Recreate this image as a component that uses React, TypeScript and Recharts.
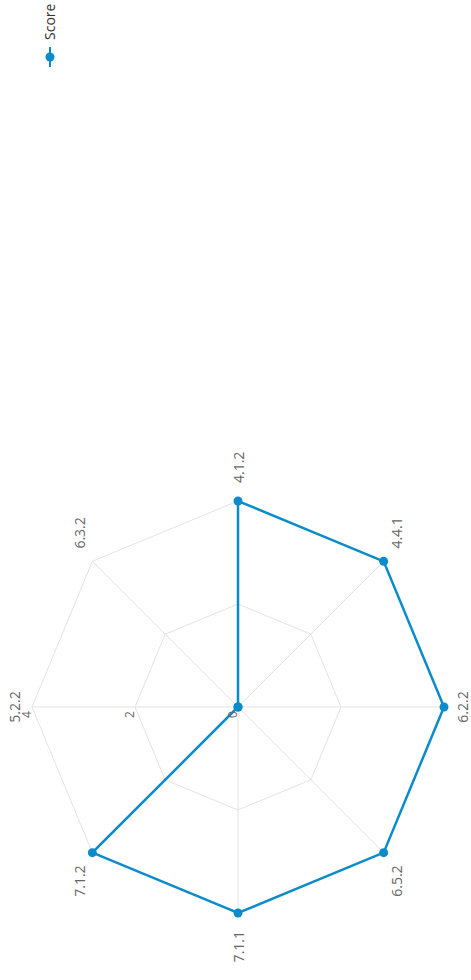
import React from 'react';
import { RadarChart, Radar, PolarGrid, PolarAngleAxis, PolarRadiusAxis, Legend } from 'recharts';

const categories = ['5.2.2', '6.3.2', '4.1.2', '4.4.1', '6.2.2', '6.5.2', '7.1.1', '7.1.2'];
const scores = [0, 0, 4, 4, 4, 4, 4, 4];
const radiusTicks = [0, 2, 4];
const seriesName = 'Score';

const data = categories.map((c, i) => ({ category: c, score: scores[i] }));

const W = 980;
const H = 471;
const CX = 273;
const CY = 238;
const R = 206;
const COLOR = '#0b8bca';
const FONT = '"Open Sans", sans-serif';

const AngleTick = (props: any) => {
  const { payload } = props;
  const ang = (-payload.coordinate * Math.PI) / 180;
  const r = R + 18;
  const x = CX + r * Math.cos(ang);
  const y = CY + r * Math.sin(ang);
  const c = Math.cos(ang);
  const anchor = Math.abs(c) < 1e-5 ? 'middle' : c > 0 ? 'start' : 'end';
  return (
    <text x={x} y={y} textAnchor={anchor} dominantBaseline="central" fontSize={14} fill="#666" fontFamily={FONT}>
      {payload.value}
    </text>
  );
};

const RadiusTick = (props: any) => {
  const { x, y, payload } = props;
  return (
    <text x={x - 4} y={y - 1.5} textAnchor="end" fontSize={12} fill="#666" fontFamily={FONT}>
      {payload.value}
    </text>
  );
};

const renderLegend = (props: any) => {
  const { payload } = props;
  return (
    <div style={{ display: 'flex', alignItems: 'center' }}>
      {(payload || []).map((e: any) => (
        <div key={e.value} style={{ display: 'flex', alignItems: 'center' }}>
          <svg width={20} height={12} style={{ display: 'block' }}>
            <line x1={0} y1={6} x2={20} y2={6} stroke={e.color} strokeWidth={2} />
            <circle cx={10} cy={6} r={4.5} fill={e.color} />
          </svg>
          <span style={{ marginLeft: 7, fontSize: 14, color: '#333', fontFamily: FONT, lineHeight: '16px' }}>{e.value}</span>
        </div>
      ))}
    </div>
  );
};

export default function App() {
  return (
    <div style={{ position: 'fixed', left: 0, top: 0, width: 471, height: 980, overflow: 'hidden', background: '#fff' }}>
      <div
        style={{
          position: 'absolute',
          left: 0,
          top: 980,
          width: W,
          height: H,
          transform: 'rotate(-90deg)',
          transformOrigin: '0 0',
        }}
      >
        <RadarChart width={W} height={H} data={data} cx={CX} cy={CY} outerRadius={R} margin={{ top: 0, right: 0, bottom: 0, left: 0 }}>
          <PolarGrid stroke="#e3e3e3" />
          <PolarAngleAxis dataKey="category" tick={<AngleTick />} tickLine={false} axisLine={false} />
          <PolarRadiusAxis angle={90} domain={[0, 4]} tickCount={radiusTicks.length} axisLine={false} tickLine={false} tick={<RadiusTick />} />
          <Legend
            content={renderLegend}
            wrapperStyle={{ position: 'absolute', left: 913, top: 42, right: 'auto', bottom: 'auto', width: 'auto' }}
          />
          <Radar
            name={seriesName}
            dataKey="score"
            stroke={COLOR}
            strokeWidth={2.5}
            fill={COLOR}
            fillOpacity={0}
            dot={{ r: 4.5, fill: COLOR, stroke: COLOR, strokeWidth: 0, fillOpacity: 1 }}
            isAnimationActive={false}
          />
        </RadarChart>
      </div>
    </div>
  );
}
